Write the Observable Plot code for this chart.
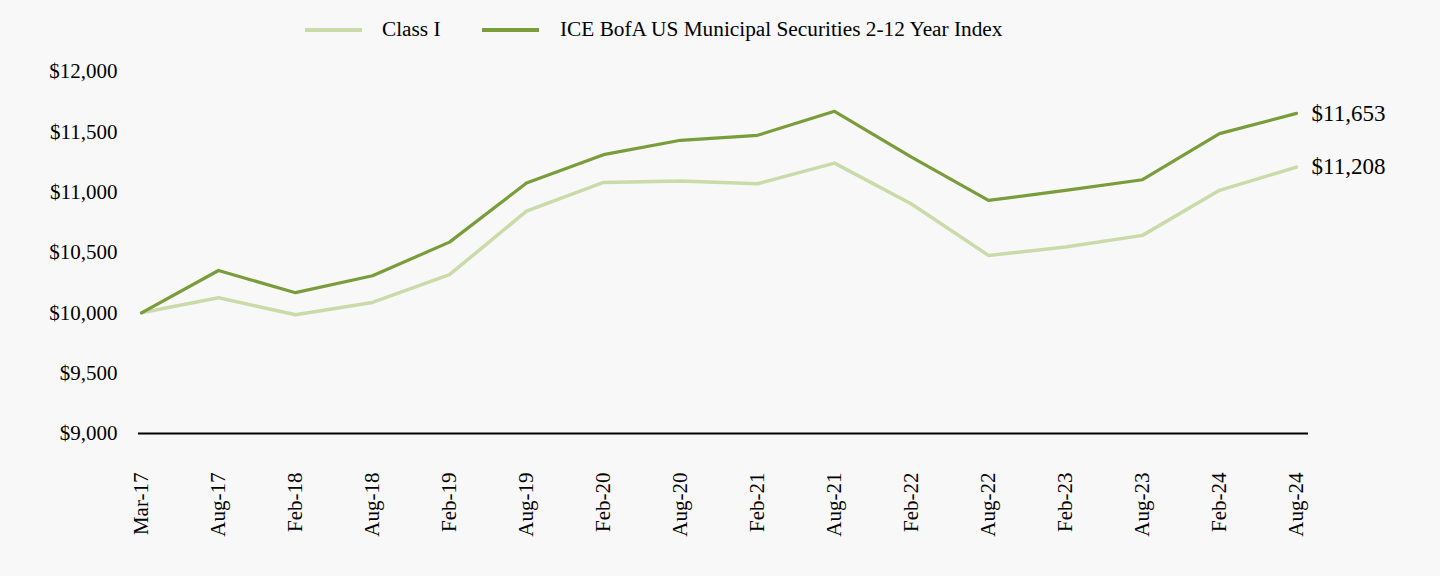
<!DOCTYPE html>
<html>
<head>
<meta charset="utf-8">
<script src="https://cdn.jsdelivr.net/npm/d3@7"></script>
<script src="https://cdn.jsdelivr.net/npm/@observablehq/plot@0.6"></script>
<style>
  html, body { margin: 0; padding: 0; background: #f8f8f8; width: 1440px; height: 576px; overflow: hidden; }
  body { font-family: "Liberation Serif", "Times New Roman", serif; color: #000; }
  #legend { position: relative; height: 60px; }
  .sw { position: absolute; top: 28px; height: 4px; width: 57px; }
  .lb { position: absolute; top: 17px; font-size: 21.3px; line-height: 24px; white-space: nowrap; }
  #chart svg { display: block; }
</style>
</head>
<body>
<div id="legend"></div>
<div id="chart"></div>
<script>
const dates = ["Mar-17","Aug-17","Feb-18","Aug-18","Feb-19","Aug-19","Feb-20","Aug-20","Feb-21","Aug-21","Feb-22","Aug-22","Feb-23","Aug-23","Feb-24","Aug-24"];
const classI = [10000,10125,9984,10086,10316,10843,11081,11092,11070,11241,10902,10476,10545,10642,11015,11208];
const indexVals = [10000,10351,10167,10307,10586,11076,11311,11430,11471,11670,11290,10932,11015,11103,11485,11653];
const seriesNames = ["Class I", "ICE BofA US Municipal Securities 2-12 Year Index"];
const seriesColors = ["#cadba9", "#789d3a"];
const yTicks = [9000, 9500, 10000, 10500, 11000, 11500, 12000];

// legend
const legend = document.getElementById("legend");
const legendPos = [[305, 382], [482, 560]];
seriesNames.forEach((n, i) => {
  const sw = document.createElement("div");
  sw.className = "sw";
  sw.style.left = legendPos[i][0] + "px";
  sw.style.background = seriesColors[i];
  legend.appendChild(sw);
  const lb = document.createElement("div");
  lb.className = "lb";
  lb.style.left = legendPos[i][1] + "px";
  lb.textContent = n;
  legend.appendChild(lb);
});

const rows = [];
dates.forEach((d, i) => {
  rows.push({date: d, value: classI[i], series: seriesNames[0]});
  rows.push({date: d, value: indexVals[i], series: seriesNames[1]});
});
const last = rows.filter(r => r.date === dates[dates.length - 1]);
const fmt = d3.format("$,");

const chart = Plot.plot({
  width: 1440,
  height: 516,
  marginLeft: 138,
  marginRight: 132,
  marginTop: 11,
  marginBottom: 143,
  style: { fontFamily: "Liberation Serif, Times New Roman, serif", fontSize: "21px", background: "transparent", color: "#000" },
  x: { type: "point", domain: dates, padding: 0, insetRight: 10, label: null },
  y: { domain: [9000, 12000], label: null },
  color: { domain: seriesNames, range: seriesColors },
  marks: [
    Plot.axisY({ ticks: yTicks, tickFormat: fmt, tickSize: 0, tickPadding: 21, label: null }),
    Plot.axisX({ tickRotate: -90, tickSize: 0, tickPadding: 39, label: null }),
    Plot.ruleY([9000], { stroke: "#000", strokeWidth: 2 }),
    Plot.line(rows.filter(r => r.series === seriesNames[0]), { x: "date", y: "value", stroke: seriesColors[0], strokeWidth: 3.5 }),
    Plot.line(rows.filter(r => r.series === seriesNames[1]), { x: "date", y: "value", stroke: seriesColors[1], strokeWidth: 3.2 }),
    Plot.text(last, { x: "date", y: "value", text: d => fmt(d.value), dx: 15, textAnchor: "start", fontSize: 23, fill: "#000" })
  ]
});
document.getElementById("chart").appendChild(chart);
</script>
</body>
</html>
